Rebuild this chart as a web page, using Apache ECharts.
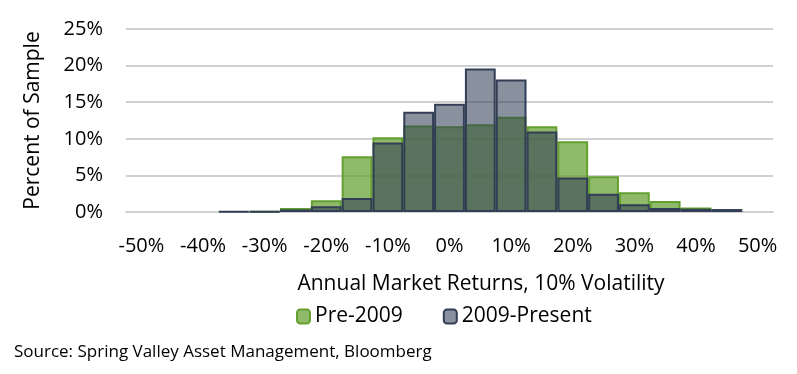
<!DOCTYPE html>
<html>
<head>
<meta charset="utf-8">
<script src="https://cdn.jsdelivr.net/npm/echarts@6/dist/echarts.min.js"></script>
<style>html,body{margin:0;padding:0;background:#fff}#c{width:797px;height:374px}</style>
</head>
<body>
<div id="c"></div>
<script>
var categories = [-50,-45,-40,-35,-30,-25,-20,-15,-10,-5,0,5,10,15,20,25,30,35,40,45,50];
var pre2009 = [null,null,null,null,0.05,0.55,1.6,7.6,10.2,11.8,11.7,12.0,13.0,11.7,9.65,4.9,2.7,1.5,0.6,0.35,null];
var post2009 = [null,null,null,0.1,0.1,0.35,0.8,1.9,9.5,13.7,14.8,19.6,18.1,11.0,4.7,2.5,1.05,0.55,0.45,0.4,null];
var yTicks = [0,5,10,15,20,25];
var seriesNames = ['Pre-2009','2009-Present'];
var xTitle = 'Annual Market Returns, 10% Volatility';
var yTitle = 'Percent of Sample';
var sourceText = 'Source: Spring Valley Asset Management, Bloomberg';

var FONT = "'Open Sans', 'Noto Sans', sans-serif";
var chart = echarts.init(document.getElementById('c'), null, {renderer:'canvas'});
chart.setOption({
  animation:false,
  grid:{left:126, right:24, top:29, bottom:162, containLabel:false},
  legend:{
    data:seriesNames, left:291, top:301, itemWidth:13, itemHeight:14, itemGap:40,
    textStyle:{fontFamily:FONT, fontSize:21, color:'#000'}
  },
  xAxis:{
    type:'category', data:categories,
    axisLine:{lineStyle:{color:'#d0d0d0', width:2}},
    axisTick:{show:false},
    axisLabel:{interval:1, margin:24, fontFamily:FONT, fontSize:20, color:'#000',
      formatter:function(v){return v+'%';}}
  },
  yAxis:{
    type:'value', min:yTicks[0], max:yTicks[yTicks.length-1], interval:5,
    name:yTitle, nameLocation:'middle', nameGap:82, nameRotate:90,
    nameTextStyle:{fontFamily:FONT, fontSize:21, color:'#000'},
    axisLine:{show:false}, axisTick:{show:false},
    splitLine:{lineStyle:{color:'#d0d0d0', width:2}},
    axisLabel:{margin:23, fontFamily:FONT, fontSize:20, color:'#000',
      formatter:function(v){return v+'%';}}
  },
  graphic:[
    {type:'text', style:{text:xTitle, x:481, y:284, textAlign:'center', textVerticalAlign:'middle', font:'21px '+FONT, fill:'#000'}},
    {type:'text', style:{text:sourceText, x:14, y:352, textAlign:'left', textVerticalAlign:'middle', font:'17px '+FONT, fill:'#000'}}
  ],
  series:[
    {name:seriesNames[0], type:'bar', data:pre2009, barWidth:'100%', barGap:'-100%',
      itemStyle:{color:'rgba(100,160,48,0.72)', borderColor:'#64a030', borderWidth:2}},
    {name:seriesNames[1], type:'bar', data:post2009, barWidth:'100%', barGap:'-100%',
      itemStyle:{color:'rgba(50,62,85,0.57)', borderColor:'#323e55', borderWidth:2}}
  ]
});
</script>
</body>
</html>
